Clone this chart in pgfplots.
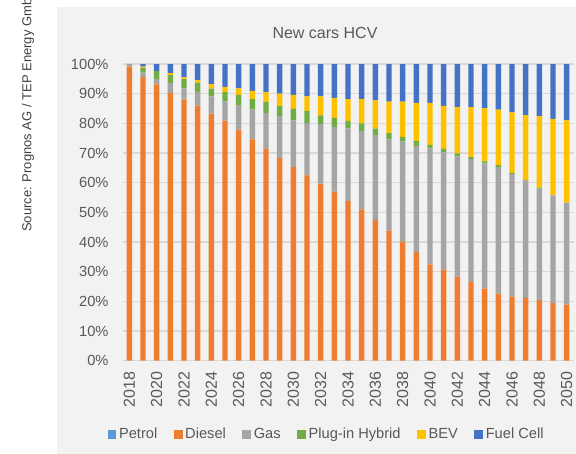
\documentclass[border=0pt]{standalone}
\usepackage{fontspec}
\setmainfont{Liberation Sans}
\usepackage{pgfplots}
\usepackage{pgfplotstable}
\pgfplotsset{compat=1.18}
\definecolor{cPetrol}{HTML}{5B9BD5}
\definecolor{cDiesel}{HTML}{ED7D31}
\definecolor{cGas}{HTML}{A5A5A5}
\definecolor{cPHEV}{HTML}{70AD47}
\definecolor{cBEV}{HTML}{FFC000}
\definecolor{cFC}{HTML}{4472C4}
\definecolor{panel}{HTML}{F2F2F2}
\definecolor{gridc}{HTML}{D9D9D9}
\definecolor{textgray}{HTML}{595959}
\definecolor{textdark}{HTML}{404040}

\pgfplotstableread{
year petrol diesel gas phev bev fc
2018 0 99.1 0.9 0 0 0
2019 0 95.7 1.4 1.5 0.5 0.9
2020 0 93.1 1.8 2.8 0 2.3
2021 0 90.3 3.3 2.7 0.6 3.1
2022 0 88.1 3.7 3.1 0.6 4.5
2023 0 86.0 4.6 3.1 0.9 5.4
2024 0 83.3 5.8 2.6 1.5 6.8
2025 0 80.9 6.5 3.1 1.8 7.7
2026 0 77.9 8.2 3.5 2.2 8.2
2027 0 74.6 10.1 3.5 2.7 9.1
2028 0 71.5 11.9 3.8 3.3 9.5
2029 0 68.3 14.1 3.4 4.2 10.0
2030 0 65.2 15.8 3.9 4.7 10.4
2031 0 62.5 17.6 4.0 5.0 10.9
2032 0 59.7 20.1 2.9 6.4 10.9
2033 0 57.0 21.8 3.0 6.8 11.4
2034 0 53.8 24.5 2.5 7.4 11.8
2035 0 51.0 26.4 2.6 8.2 11.8
2036 0 47.5 28.6 2.1 9.5 12.3
2037 0 43.8 30.8 2.1 10.6 12.7
2038 0 40.1 33.7 1.6 11.9 12.7
2039 0 36.6 35.8 1.7 12.8 13.1
2040 0 32.5 39.1 1.1 14.2 13.1
2041 0 30.7 39.5 1.2 14.5 14.1
2042 0 28.3 40.6 1.0 15.6 14.5
2043 0 26.6 41.3 0.7 16.9 14.5
2044 0 24.3 42.2 0.7 17.9 14.9
2045 0 22.6 42.6 0.7 18.7 15.4
2046 0 21.6 41.3 0.4 20.4 16.3
2047 0 21.2 39.5 0.2 21.9 17.2
2048 0 20.4 37.6 0.3 24.1 17.6
2049 0 19.4 36.3 0 25.8 18.5
2050 0 18.9 34.4 0 27.7 19.0
}\data

\begin{document}
\begin{tikzpicture}
\fill[panel] (42.75pt,0pt) rectangle (432pt,335.25pt);
\node[rotate=90, anchor=base west, font=\fontsize{9.75}{12}\selectfont, text=textdark, inner sep=0pt] at (23.6pt,166.5pt) {Source: Prognos AG / TEP Energy GmbH};
\node[font=\fontsize{12}{14}\selectfont, text=textgray] at (243.75pt,315.75pt) {New cars HCV};
\begin{axis}[
  at={(91.875pt,70pt)}, anchor=south west,
  scale only axis, width=338.25pt, height=222.5pt,
  xmin=2017.5, xmax=2050.5, ymin=0, ymax=100,
  enlargelimits=false,
  ybar stacked, bar width=0.4,
  axis line style={draw=none},
  major tick length=0pt,
  ymajorgrids, grid style={gridc, line width=0.9pt},
  ytick={0,10,...,100},
  yticklabels={0\%,10\%,20\%,30\%,40\%,50\%,60\%,70\%,80\%,90\%,100\%},
  xtick={2018,2020,...,2050},
  xticklabels={2018,2020,2022,2024,2026,2028,2030,2032,2034,2036,2038,2040,2042,2044,2046,2048,2050},
  tick label style={font=\fontsize{11}{13}\selectfont, text=textgray},
  yticklabel style={xshift=-7pt},
  xticklabel style={rotate=90, anchor=east, inner sep=1pt, xshift=-7.2pt, font=\fontsize{12}{14}\selectfont},
  legend style={at={(0.4534,-0.2487)}, anchor=center, draw=none, fill=none,
    legend columns=6, font=\fontsize{11}{13}\selectfont, text=textgray,
    /tikz/every even column/.append style={column sep=10.4pt},
    nodes={inner sep=2pt}},
]
\addplot[fill=cPetrol, draw=none, legend image code/.code={\fill[cPetrol] (0pt,-3.2pt) rectangle (6.5pt,3.2pt);}] table[x=year,y=petrol] {\data};
\addlegendentry{Petrol}
\addplot[fill=cDiesel, draw=none, legend image code/.code={\fill[cDiesel] (0pt,-3.2pt) rectangle (6.5pt,3.2pt);}] table[x=year,y=diesel] {\data};
\addlegendentry{Diesel}
\addplot[fill=cGas, draw=none, legend image code/.code={\fill[cGas] (0pt,-3.2pt) rectangle (6.5pt,3.2pt);}] table[x=year,y=gas] {\data};
\addlegendentry{Gas}
\addplot[fill=cPHEV, draw=none, legend image code/.code={\fill[cPHEV] (0pt,-3.2pt) rectangle (6.5pt,3.2pt);}] table[x=year,y=phev] {\data};
\addlegendentry{Plug-in Hybrid}
\addplot[fill=cBEV, draw=none, legend image code/.code={\fill[cBEV] (0pt,-3.2pt) rectangle (6.5pt,3.2pt);}] table[x=year,y=bev] {\data};
\addlegendentry{BEV}
\addplot[fill=cFC, draw=none, legend image code/.code={\fill[cFC] (0pt,-3.2pt) rectangle (6.5pt,3.2pt);}] table[x=year,y=fc] {\data};
\addlegendentry{Fuel Cell}
\end{axis}
\pgfresetboundingbox
\useasboundingbox (0pt,0pt) rectangle (432pt,340.5pt);
\end{tikzpicture}
\end{document}
